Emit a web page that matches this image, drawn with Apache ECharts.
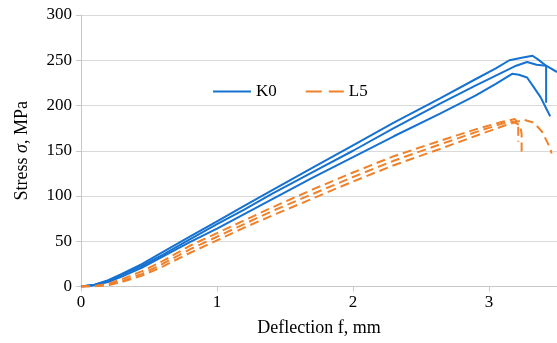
<!DOCTYPE html>
<html>
<head>
<meta charset="utf-8">
<script src="https://cdn.jsdelivr.net/npm/echarts@6/dist/echarts.min.js"></script>
<style>html,body{margin:0;padding:0;background:#fff;}#c{width:557px;height:343px;}</style>
</head>
<body>
<div id="c"></div>
<script>
// Curve data [deflection mm, stress MPa]
const K0_a = [[0,0],[0.1,2],[0.2,7],[0.3,14],[0.45,25],[0.6,38],[0.8,55],[1.0,72],[1.2,89],[1.4,106],[1.7,131],[2.0,156],[2.3,181],[2.64,208],[2.9,229],[3.05,241],[3.15,250],[3.25,253],[3.32,255],[3.36,251],[3.42,244],[3.5,237]];
const K0_b = [[0,0],[0.1,2],[0.2,6],[0.3,13],[0.45,23],[0.6,35],[0.8,52],[1.0,69],[1.2,85],[1.4,102],[1.7,126],[2.0,150],[2.3,175],[2.64,202],[2.9,222],[3.05,233],[3.2,244],[3.28,248],[3.35,245],[3.42,244],[3.42,203]];
const K0_c = [[0,0],[0.1,1.5],[0.2,5],[0.3,11],[0.45,21],[0.6,33],[0.8,49],[1.0,64],[1.2,80],[1.4,96],[1.7,120],[2.0,143],[2.3,166],[2.64,191],[2.9,211],[3.05,224],[3.17,235],[3.22,234],[3.28,231],[3.33,220],[3.38,209],[3.42,197],[3.45,188]];
const L5_a = [[0,0],[0.1,0.5],[0.2,3],[0.3,8],[0.45,17],[0.6,28],[0.8,45],[1.0,59],[1.2,73],[1.4,87],[1.7,107],[2.0,126],[2.3,144],[2.64,161],[2.93,175],[3.1,182],[3.19,185],[3.215,180],[3.215,160]];
const L5_b = [[0,0],[0.1,0.3],[0.2,2],[0.3,6],[0.45,14],[0.6,25],[0.8,41],[1.0,55],[1.2,69],[1.4,83],[1.7,102],[2.0,121],[2.3,139],[2.64,157],[2.93,172],[3.1,180],[3.18,182],[3.23,178],[3.24,168],[3.24,148]];
const L5_c = [[0,0],[0.1,0.2],[0.2,1.5],[0.3,5],[0.45,12],[0.6,22],[0.8,37],[1.0,51],[1.2,65],[1.4,78],[1.7,97],[2.0,116],[2.3,134],[2.64,152],[2.93,168],[3.1,177],[3.2,182],[3.26,184],[3.33,181],[3.39,171],[3.45,153],[3.46,147]];
const xTicks = [0,1,2,3];
const yTicks = [0,50,100,150,200,250,300];
const legendNames = ['K0','L5'];

const BLUE = '#1672D0';
const ORANGE = '#F0812A';
const FONT = '"Liberation Serif", "Times New Roman", serif';

function mk(name, data, color, dashed) {
  return {
    name: name, type: 'line', data: data, showSymbol: false, symbol: 'none',
    smooth: false, animation: false,
    lineStyle: { color: color, width: 2, type: dashed ? [9,5] : 'solid' },
    itemStyle: { color: color }
  };
}

const chart = echarts.init(document.getElementById('c'), null, {renderer: 'canvas'});
chart.setOption({
  animation: false,
  grid: { left: 81, right: 0, top: 15, bottom: 56.5, containLabel: false },
  legend: {
    data: [
      { name: legendNames[0] },
      { name: legendNames[1], lineStyle: { type: [16, 7] } }
    ],
    left: 207, top: 78, itemWidth: 38, itemHeight: 14, itemGap: 28,
    itemStyle: { opacity: 0 },
    textStyle: { fontFamily: FONT, fontSize: 17, color: '#000' }
  },
  xAxis: {
    type: 'value', min: 0, max: 3.5, interval: 1,
    name: 'Deflection f, mm', nameLocation: 'middle', nameGap: 33,
    nameTextStyle: { fontFamily: FONT, fontSize: 18, color: '#000' },
    axisLine: { show: true, lineStyle: { color: '#c8c8c8', width: 1 } },
    axisTick: { show: true, length: 5, lineStyle: { color: '#c8c8c8' }, customValues: xTicks },
    axisLabel: { fontFamily: FONT, fontSize: 17, color: '#000', margin: 8, customValues: xTicks },
    splitLine: { show: false }
  },
  yAxis: {
    type: 'value', min: 0, max: 300, interval: 50,
    name: 'Stress {i|σ}, MPa', nameLocation: 'middle', nameGap: 50, nameRotate: 90,
    nameTextStyle: { fontFamily: FONT, fontSize: 18, color: '#000',
      rich: { i: { fontFamily: FONT, fontSize: 18, fontStyle: 'italic', color: '#000' } } },
    axisLine: { show: true, lineStyle: { color: '#c8c8c8', width: 1 } },
    axisTick: { show: true, length: 5, inside: false, lineStyle: { color: '#c8c8c8' }, customValues: yTicks },
    axisLabel: { fontFamily: FONT, fontSize: 17, color: '#000', margin: 9, customValues: yTicks },
    splitLine: { show: true, lineStyle: { color: '#d9d9d9', width: 1 } }
  },
  series: [
    mk('K0', K0_a, BLUE, false),
    mk('K0', K0_b, BLUE, false),
    mk('K0', K0_c, BLUE, false),
    mk('L5', L5_a, ORANGE, true),
    mk('L5', L5_b, ORANGE, true),
    mk('L5', L5_c, ORANGE, true)
  ]
});
</script>
</body>
</html>
